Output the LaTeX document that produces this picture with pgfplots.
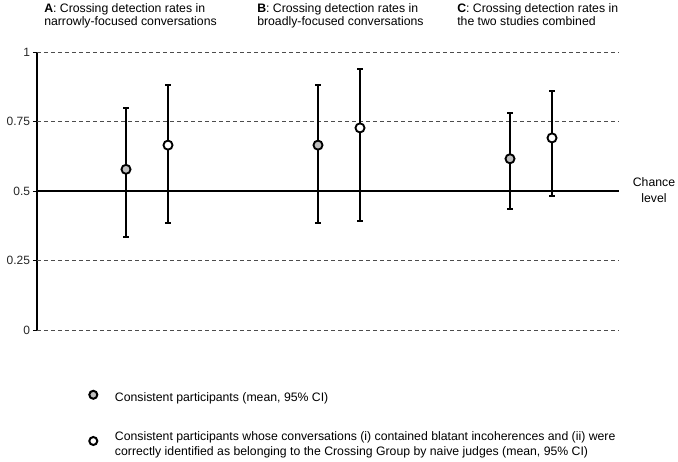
\documentclass[border=0pt]{standalone}
\usepackage{pgfplots}
\usepackage{pgfplotstable}
\pgfplotsset{compat=1.18}
\usepackage{fontspec}
\setmainfont{Liberation Sans}
\definecolor{ptgray}{RGB}{191,191,191}
\pgfplotstableread{
x   y     lo    hi
89  0.578 0.336 0.797
281 0.665 0.386 0.881
473 0.616 0.434 0.779
}\consistent
\pgfplotstableread{
x   y     lo    hi
131 0.665 0.386 0.881
323 0.727 0.391 0.939
515 0.691 0.482 0.858
}\incoherent
\begin{document}
\begin{tikzpicture}[x=0.75pt,y=0.75pt]
\begin{axis}[
  at={(0,0)}, anchor=south west,
  scale only axis, width=436.5pt, height=208.5pt,
  xmin=0, xmax=582, ymin=0, ymax=1,
  clip=false,
  axis x line=none,
  axis y line*=left,
  y axis line style={line width=1.5pt, -},
  ytick={0,0.25,0.5,0.75,1},
  yticklabels={0,0.25,0.5,0.75,1},
  ytick style={black, line width=0.75pt},
  tick align=outside,
  major tick length=3pt,
  yticklabel style={font=\fontsize{9}{11}\selectfont, text=black!85, inner xsep=2pt},
  /pgf/number format/assume math mode=true,
  legend style={draw=none, fill=none, at={(axis cs:51.3,-0.215)}, anchor=north west,
    font=\fontsize{9.2}{11}\selectfont, cells={anchor=base west, align=left},
    row sep=21pt, column sep=12.5pt, inner sep=0pt, outer sep=0pt,
    nodes={inner sep=0pt, outer sep=0pt}},
  legend cell align=left,
]
% dashed reference lines
\foreach \yy in {0,0.25,0.75,1}{
  \edef\tmp{\noexpand\draw[black!70, line width=0.75pt, dash pattern=on 3pt off 2.25pt] (axis cs:0,\yy) -- (axis cs:582,\yy);}
  \tmp
}
\draw[black, line width=1.5pt] (axis cs:0,0.5) -- (axis cs:582,0.5);

\addplot[only marks, mark=*, mark size=3.4pt,
  mark options={fill=ptgray, draw=black, line width=1.4pt},
  legend image code/.code={\draw[fill=ptgray, draw=black, line width=1.5pt] (3pt,2.6pt) circle (3pt);},
  error bars/.cd, y dir=both, y explicit,
  error bar style={line width=1.5pt, black},
  error mark options={rotate=90, mark size=2.2pt, line width=1.5pt, black}]
  table[x=x, y=y, y error plus expr=\thisrow{hi}-\thisrow{y}, y error minus expr=\thisrow{y}-\thisrow{lo}] {\consistent};
\addlegendentry{Consistent participants (mean, 95\% CI)}

\addplot[only marks, mark=*, mark size=3.4pt,
  mark options={fill=white, draw=black, line width=1.4pt},
  legend image code/.code={\draw[fill=white, draw=black, line width=1.5pt] (3pt,2.6pt) circle (3pt);},
  error bars/.cd, y dir=both, y explicit,
  error bar style={line width=1.5pt, black},
  error mark options={rotate=90, mark size=2.2pt, line width=1.5pt, black}]
  table[x=x, y=y, y error plus expr=\thisrow{hi}-\thisrow{y}, y error minus expr=\thisrow{y}-\thisrow{lo}] {\incoherent};
\addlegendentry{Consistent participants whose conversations (i) contained blatant incoherences and (ii) were\\correctly identified as belonging to the Crossing Group by naive judges (mean, 95\% CI)}
\end{axis}

\begin{scope}[every node/.style={inner sep=0pt, anchor=base west, font=\fontsize{9.2}{11}\selectfont}]
\node at (7,317.3) {\textbf{A}: Crossing detection rates in};
\node at (7,304) {narrowly-focused conversations};
\node at (220,317.3) {\textbf{B}: Crossing detection rates in};
\node at (220,304) {broadly-focused conversations};
\node at (420,317.3) {\textbf{C}: Crossing detection rates in};
\node at (420,304) {the two studies combined};
\node[anchor=center, align=center, font=\fontsize{9.2}{11.5}\selectfont] at (617,140) {Chance\\level};
\end{scope}

\pgfresetboundingbox
\path[use as bounding box] (-37,-131) rectangle (641,330);
\end{tikzpicture}
\end{document}
